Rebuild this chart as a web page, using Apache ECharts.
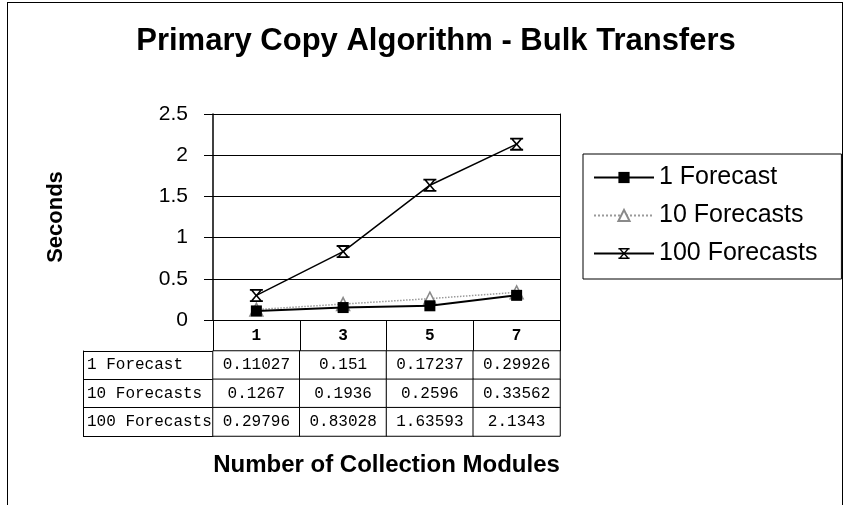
<!DOCTYPE html>
<html>
<head>
<meta charset="utf-8">
<script src="https://cdn.jsdelivr.net/npm/echarts@6/dist/echarts.min.js"></script>
<style>
html,body{margin:0;padding:0;background:#fff;}
#frame{position:absolute;left:7px;top:2px;width:834px;height:600px;border:1px solid #000;box-sizing:content-box;}
#chart{position:absolute;left:0;top:0;width:843px;height:505px;}
</style>
</head>
<body>
<div id="frame"></div>
<div id="chart"></div>
<script>
// ---- data ----
const titleText = 'Primary Copy Algorithm - Bulk Transfers';
const categories = ['1', '3', '5', '7'];
const seriesNames = ['1 Forecast', '10 Forecasts', '100 Forecasts'];
const oneForecast = [0.11027, 0.151, 0.17237, 0.29926];
const tenForecasts = [0.1267, 0.1936, 0.2596, 0.33562];
const hundredForecasts = [0.29796, 0.83028, 1.63593, 2.1343];
const yTicks = { min: 0, max: 2.5, step: 0.5 };
const yTitle = 'Seconds';
const xTitle = 'Number of Collection Modules';

// ---- build ----
const allValues = [oneForecast, tenForecasts, hundredForecasts];
const tableCells = [];
allValues.forEach((row, r) => row.forEach((v, c) => tableCells.push([c, r, v])));

const sans = 'Arial, "Liberation Sans", sans-serif';
const mono = '"Courier New", "Liberation Mono", monospace';
const hourglass = 'path://M0,0L10,0L10,1.4L0,1.4Z M0,8.6L10,8.6L10,10L0,10Z M1,1.4L2.6,1.4L5,4.2L7.4,1.4L9,1.4L5.9,5L9,8.6L7.4,8.6L5,5.8L2.6,8.6L1,8.6L4.1,5Z';

const chart = echarts.init(document.getElementById('chart'), null, { renderer: 'canvas' });
chart.setOption({
  animation: false,
  backgroundColor: 'transparent',
  title: {
    text: titleText,
    left: 431, top: 21,
    textAlign: 'center',
    textStyle: { fontFamily: sans, fontWeight: 'bold', fontSize: 31, color: '#000' }
  },
  legend: {
    orient: 'vertical',
    left: 583, top: 154,
    padding: [11, 24, 13, 10],
    borderColor: '#000', borderWidth: 1,
    itemWidth: 60, itemHeight: 14, itemGap: 13,
    textStyle: { fontFamily: sans, fontSize: 25, color: '#000' },
    data: seriesNames
  },
  grid: [
    { left: 213, top: 114, width: 347, height: 206 },
    { left: 213, top: 351, width: 347, height: 85 }
  ],
  xAxis: [
    {
      gridIndex: 0, type: 'category', data: categories,
      axisLine: { show: true, lineStyle: { color: '#000', width: 1 } },
      axisTick: { show: true, length: 31, interval: 0, alignWithLabel: false, lineStyle: { color: '#000' } },
      axisLabel: { margin: 8, fontFamily: mono, fontSize: 16, fontWeight: 'bold', color: '#000', interval: 0 },
      splitLine: { show: false }
    },
    {
      gridIndex: 1, type: 'category', data: categories,
      axisLine: { show: false }, axisTick: { show: false }, axisLabel: { show: false },
      name: xTitle, nameLocation: 'middle', nameGap: 17,
      nameTextStyle: { fontFamily: sans, fontWeight: 'bold', fontSize: 24, color: '#000' }
    }
  ],
  yAxis: [
    {
      gridIndex: 0, type: 'value', position: 'left', min: yTicks.min, max: yTicks.max, interval: yTicks.step,
      axisLine: { show: true, lineStyle: { color: '#000', width: 1.5 } },
      axisTick: { show: true, length: 9, lineStyle: { color: '#000' } },
      axisLabel: { margin: 25, fontFamily: sans, fontSize: 21, color: '#000' },
      splitLine: { show: true, lineStyle: { color: '#000', width: 1 } },
      name: yTitle, nameLocation: 'middle', nameGap: 146,
      nameTextStyle: { fontFamily: sans, fontWeight: 'bold', fontSize: 22, color: '#000' }
    },
    {
      gridIndex: 0, type: 'value', position: 'right', min: yTicks.min, max: yTicks.max, interval: yTicks.step,
      axisLine: { show: true, lineStyle: { color: '#000', width: 1 } },
      axisTick: { show: false }, axisLabel: { show: false }, splitLine: { show: false }
    },
    {
      gridIndex: 1, type: 'category', position: 'left', data: seriesNames, inverse: true,
      axisLine: { show: true, lineStyle: { color: '#000', width: 1 } },
      axisTick: { show: true, length: 130, interval: 0, lineStyle: { color: '#000' } },
      axisLabel: { align: 'left', margin: 126, fontFamily: mono, fontSize: 16, color: '#000', interval: 0 }
    },
    {
      gridIndex: 1, type: 'category', position: 'left', data: seriesNames, inverse: true, offset: 130,
      axisLine: { show: true, lineStyle: { color: '#000', width: 1 } },
      axisTick: { show: false }, axisLabel: { show: false }
    }
  ],
  visualMap: {
    show: false, seriesIndex: 3, min: 0, max: 3, dimension: 2,
    inRange: { color: ['#ffffff', '#ffffff'] }
  },
  series: [
    {
      name: seriesNames[0], type: 'line', xAxisIndex: 0, yAxisIndex: 0, data: oneForecast,
      symbol: 'rect', symbolSize: 11, z: 4,
      lineStyle: { color: '#000', width: 2 },
      itemStyle: { color: '#000' }
    },
    {
      name: seriesNames[1], type: 'line', xAxisIndex: 0, yAxisIndex: 0, data: tenForecasts,
      symbol: 'triangle', symbolSize: 13, z: 3,
      lineStyle: { color: '#9a9a9a', width: 1.5, type: 'dotted' },
      itemStyle: { color: '#ffffff', borderColor: '#8a8a8a', borderWidth: 1.5 }
    },
    {
      name: seriesNames[2], type: 'line', xAxisIndex: 0, yAxisIndex: 0, data: hundredForecasts,
      symbol: hourglass, symbolSize: [13, 13], z: 5,
      lineStyle: { color: '#000', width: 1.5 },
      itemStyle: { color: '#000' }
    },
    {
      name: 'table', type: 'heatmap', xAxisIndex: 1, yAxisIndex: 2, data: tableCells,
      itemStyle: { color: '#fff', borderColor: '#000', borderWidth: 1 },
      label: {
        show: true, fontFamily: mono, fontSize: 16, color: '#000',
        formatter: p => String(p.value[2])
      },
      emphasis: { disabled: true }
    }
  ]
});
</script>
</body>
</html>
